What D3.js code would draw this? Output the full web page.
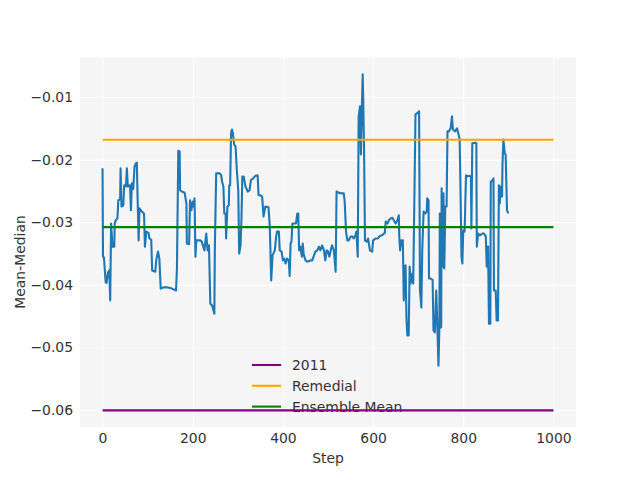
<!DOCTYPE html>
<html>
<head>
<meta charset="utf-8">
<script src="https://cdn.jsdelivr.net/npm/d3@7"></script>
<style>
  html, body { margin: 0; padding: 0; background: #ffffff; }
  svg { display: block; }
  text { font-family: "DejaVu Sans", sans-serif; }
</style>
</head>
<body>
<div id="chart"></div>
<script>
// ---- data ----
const steps = [0,1,3,7,9,12,15,17,19,22,26,27,30,33,35,39,40,42,46,48,52,54,56,61,63,65,68,71,74,76,77,80,82,87,92,94,97,102,104,108,110,117,119,123,126,129,135,143,154,163,165,168,171,172,176,182,186,187,192,194,197,200,202,204,206,208,217,220,226,230,233,236,239,243,248,249,252,260,263,265,268,270,273,274,277,280,281,283,285,287,289,292,295,298,301,303,306,308,310,313,317,322,326,329,334,339,344,346,350,354,357,361,368,371,374,377,382,385,387,391,393,397,400,403,406,409,413,415,417,419,421,429,432,434,436,439,442,444,446,450,454,461,465,468,472,476,480,483,487,491,494,497,500,503,506,509,513,517,519,524,530,535,537,540,543,546,550,554,557,561,563,566,568,571,573,575,577,578,580,582,586,589,593,598,600,606,611,615,620,626,628,632,635,639,643,646,650,654,657,658,660,663,666,668,670,672,674,676,679,681,683,687,689,692,694,698,702,704,707,709,712,716,719,720,723,724,728,732,734,737,740,743,745,747,748,751,752,754,756,758,760,763,765,768,772,775,777,782,786,788,792,794,796,798,800,803,806,809,813,817,818,820,826,829,830,833,837,843,846,850,852,855,857,860,861,865,867,868,872,874,877,879,881,883,886,887,889,892,894,897,900];
const meanMedian = [-21.4,-35.5,-35.6,-39.6,-39.7,-38.0,-37.7,-42.5,-30.2,-33.9,-33.9,-30.2,-29.6,-29.4,-26.5,-26.3,-21.4,-27.5,-27.3,-24.1,-24.3,-21.4,-24.3,-24.1,-28.1,-23.8,-24.7,-21.1,-20.6,-20.5,-23.8,-32.9,-27.8,-28.3,-28.6,-33.9,-31.5,-31.7,-32.6,-32.8,-37.7,-37.9,-36.1,-34.7,-35.8,-40.6,-40.4,-40.4,-40.6,-40.9,-37.4,-18.6,-18.7,-24.9,-25.1,-25.3,-27.0,-33.4,-33.5,-26.5,-28.1,-26.7,-27.5,-26.2,-35.5,-32.9,-32.9,-33.1,-34.5,-31.8,-34.5,-33.7,-43.0,-43.3,-44.6,-34.5,-22.2,-22.2,-22.5,-23.5,-24.3,-28.6,-28.6,-32.6,-27.5,-27.3,-24.1,-24.1,-15.8,-15.2,-15.8,-17.6,-17.9,-21.9,-24.9,-35.0,-33.7,-29.7,-22.7,-22.7,-24.3,-25.1,-24.9,-23.3,-23.0,-22.6,-22.5,-25.7,-25.7,-25.9,-29.1,-27.5,-27.6,-30.7,-39.3,-35.3,-34.5,-32.3,-31.5,-31.5,-34.5,-34.7,-36.1,-35.8,-36.6,-35.8,-36.1,-38.6,-33.4,-33.1,-30.2,-30.2,-28.6,-28.6,-34.5,-33.9,-35.5,-33.4,-35.1,-36.1,-36.3,-36.1,-36.1,-35.5,-34.7,-34.5,-33.9,-34.5,-33.7,-34.5,-36.1,-34.5,-34.7,-35.5,-34.5,-33.7,-34.5,-37.9,-25.1,-25.3,-25.4,-25.4,-26.7,-31.5,-32.9,-32.9,-32.3,-32.3,-32.6,-32.1,-31.5,-35.5,-13.1,-11.5,-19.2,-12.0,-6.4,-9.9,-18.4,-32.9,-33.1,-32.6,-34.5,-34.7,-32.9,-32.6,-32.6,-32.2,-32.1,-31.7,-29.9,-30.2,-29.7,-29.4,-29.3,-29.7,-30.2,-29.7,-28.9,-32.3,-34.5,-32.9,-32.9,-42.5,-37.1,-36.9,-45.2,-48.1,-48.1,-37.1,-39.8,-38.2,-39.8,-23.8,-12.8,-12.6,-12.3,-40.9,-43.6,-34.5,-28.3,-28.6,-28.3,-26.2,-26.5,-39.0,-39.0,-39.2,-47.3,-47.6,-40.9,-47.8,-52.9,-46.8,-28.6,-46.8,-24.6,-37.1,-25.4,-37.4,-27.5,-27.5,-15.5,-15.5,-15.0,-13.1,-15.2,-15.5,-15.0,-15.5,-16.8,-25.4,-35.5,-36.6,-31.3,-31.5,-22.5,-22.7,-22.6,-22.7,-31.0,-17.4,-17.3,-17.4,-33.9,-31.8,-32.1,-31.8,-31.8,-32.3,-37.1,-33.9,-46.2,-46.2,-23.5,-23.3,-23.0,-40.9,-40.9,-45.7,-45.7,-24.1,-27.0,-24.3,-25.9,-20.6,-16.8,-19.0,-19.2,-28.1,-28.6].map(v => v / 1000);

const refNames = ["2011", "Remedial", "Ensemble Mean"];
const refValues = [-0.06005, -0.01684, -0.03078];
const refColors = ["#800080", "#ffa500", "#008000"];
const refStart = 0, refEnd = 1000;

const xTicks = [0, 200, 400, 600, 800, 1000];
const yTicks = [-0.06, -0.05, -0.04, -0.03, -0.02, -0.01];
const xLabel = "Step";
const yLabel = "Mean-Median";

// ---- layout ----
const W = 640, H = 480;
const L = 80, R = 576, T = 57.6, B = 427.2;

const svg = d3.select("#chart").append("svg").attr("width", W).attr("height", H);

// domains with matplotlib-like 5% margins
const xMin = Math.min(refStart, d3.min(steps)), xMax = Math.max(refEnd, d3.max(steps));
const xPad = (xMax - xMin) * 0.05;
const allY = meanMedian.concat(refValues);
const yMin = d3.min(allY), yMax = d3.max(allY);
const yPad = (yMax - yMin) * 0.05;

const x = d3.scaleLinear().domain([xMin - xPad, xMax + xPad]).range([L, R]);
const y = d3.scaleLinear().domain([yMin - yPad, yMax + yPad]).range([B, T]);

// background
svg.append("rect").attr("x", L).attr("y", T).attr("width", R - L).attr("height", B - T).attr("fill", "#f5f5f5");

// grid
const gx = svg.append("g").attr("transform", `translate(0,${B})`)
  .call(d3.axisBottom(x).tickValues(xTicks).tickSize(-(B - T)).tickFormat(""));
gx.select(".domain").remove();
gx.selectAll("line").attr("stroke", "#ffffff").attr("stroke-width", 1);
const gy = svg.append("g").attr("transform", `translate(${L},0)`)
  .call(d3.axisLeft(y).tickValues(yTicks).tickSize(-(R - L)).tickFormat(""));
gy.select(".domain").remove();
gy.selectAll("line").attr("stroke", "#ffffff").attr("stroke-width", 1);

// tick labels via axes
const fmtY = d => d3.format(".2f")(d).replace("-", "\u2212");
const ax = svg.append("g").attr("transform", `translate(0,${B})`)
  .call(d3.axisBottom(x).tickValues(xTicks).tickSize(0).tickPadding(6).tickFormat(d3.format("d")));
ax.select(".domain").remove();
ax.selectAll("text").attr("font-size", "13.9px").attr("fill", "#333333").attr("font-family", "DejaVu Sans, sans-serif");
const ay = svg.append("g").attr("transform", `translate(${L},0)`)
  .call(d3.axisLeft(y).tickValues(yTicks).tickSize(0).tickPadding(7).tickFormat(fmtY));
ay.select(".domain").remove();
ay.selectAll("text").attr("font-size", "13.9px").attr("fill", "#333333").attr("font-family", "DejaVu Sans, sans-serif");

// axis labels
svg.append("text").attr("x", (L + R) / 2).attr("y", 463).attr("text-anchor", "middle")
  .attr("font-size", "13.9px").attr("fill", "#333333").text(xLabel);
svg.append("text").attr("transform", `translate(25,262) rotate(-90)`).attr("text-anchor", "middle")
  .attr("font-size", "13.9px").attr("fill", "#333333").text(yLabel);

// clip
svg.append("clipPath").attr("id", "clip").append("rect")
  .attr("x", L).attr("y", T).attr("width", R - L).attr("height", B - T);

// main series
const pts = steps.map((s, i) => [s, meanMedian[i]]);
svg.append("path").datum(pts).attr("clip-path", "url(#clip)")
  .attr("d", d3.line().x(d => x(d[0])).y(d => y(d[1])))
  .attr("fill", "none").attr("stroke", "#1f77b4").attr("stroke-width", 2.1)
  .attr("stroke-linejoin", "round").attr("stroke-linecap", "butt");

// legend
const leg = svg.append("g");
refNames.forEach((n, i) => {
  const yy = 365 + i * 20.8;
  leg.append("line").attr("x1", 252).attr("x2", 281).attr("y1", yy).attr("y2", yy)
    .attr("stroke", refColors[i]).attr("stroke-width", 2.1);
  leg.append("text").attr("x", 292).attr("y", yy).attr("dy", "0.36em")
    .attr("font-size", "13.9px").attr("fill", "#333333").text(n);
});

// reference lines
refValues.forEach((v, i) => {
  svg.append("line").attr("x1", x(refStart)).attr("x2", x(refEnd))
    .attr("y1", y(v)).attr("y2", y(v))
    .attr("stroke", refColors[i]).attr("stroke-width", 2.1);
});
</script>
</body>
</html>
